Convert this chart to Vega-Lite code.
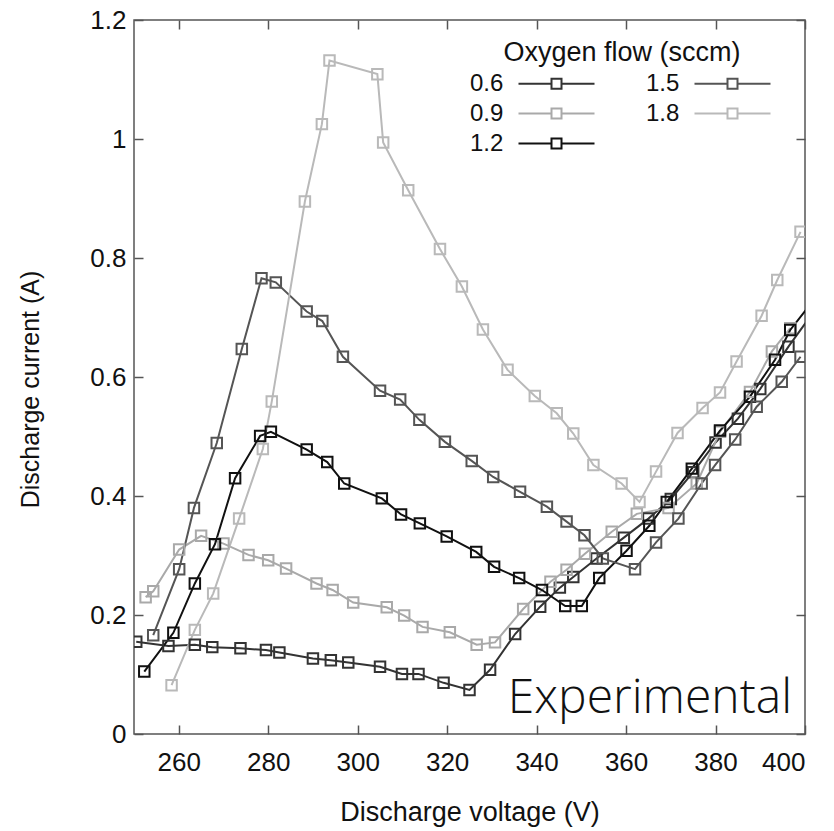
{
  "$schema": "https://vega.github.io/schema/vega-lite/v6.json",
  "width": 671,
  "height": 714,
  "autosize": {"type": "none"},
  "padding": {"left": 134, "top": 20, "right": 29, "bottom": 97},
  "background": "white",
  "config": {
    "view": {"stroke": "#555555", "strokeWidth": 1.5},
    "font": "Liberation Sans",
    "axis": {
      "domain": false,
      "grid": false,
      "tickColor": "#555555",
      "tickWidth": 1.5,
      "tickSize": -9,
      "labelFont": "Liberation Sans",
      "labelFontSize": 26,
      "labelColor": "#111111",
      "titleFont": "Liberation Sans",
      "titleFontSize": 26,
      "titleFontWeight": "normal",
      "titleColor": "#111111"
    },
    "legend": {
      "orient": "none",
      "legendX": 336,
      "legendY": 20,
      "columns": 2,
      "titleFont": "Liberation Sans",
      "titleFontSize": 27,
      "titleFontWeight": "normal",
      "titleColor": "#111111",
      "titleAnchor": "middle",
      "titleLimit": 400,
      "titlePadding": 3,
      "labelFont": "Liberation Sans",
      "labelFontSize": 24,
      "labelColor": "#111111",
      "labelAlign": "left",
      "labelOffset": -100,
      "symbolOffset": 73,
      "symbolType": "M-3.04,0H-0.4M0.4,0H3.04M-0.4,-0.4H0.4V0.4H-0.4Z",
      "symbolSize": 625,
      "symbolStrokeWidth": 2,
      "symbolFillColor": "transparent",
      "rowPadding": 4,
      "columnPadding": 47
    }
  },
  "data": {
    "values": [
      {"flow": "0.6", "v": 250.5, "i": 0.155},
      {"flow": "0.6", "v": 257.7, "i": 0.148},
      {"flow": "0.6", "v": 263.6, "i": 0.150},
      {"flow": "0.6", "v": 267.5, "i": 0.146},
      {"flow": "0.6", "v": 273.8, "i": 0.144},
      {"flow": "0.6", "v": 279.5, "i": 0.141},
      {"flow": "0.6", "v": 282.5, "i": 0.137},
      {"flow": "0.6", "v": 290.0, "i": 0.127},
      {"flow": "0.6", "v": 294.0, "i": 0.124},
      {"flow": "0.6", "v": 297.9, "i": 0.120},
      {"flow": "0.6", "v": 305.0, "i": 0.113},
      {"flow": "0.6", "v": 309.9, "i": 0.101},
      {"flow": "0.6", "v": 313.6, "i": 0.101},
      {"flow": "0.6", "v": 319.2, "i": 0.086},
      {"flow": "0.6", "v": 325.0, "i": 0.074},
      {"flow": "0.6", "v": 329.6, "i": 0.108},
      {"flow": "0.6", "v": 335.2, "i": 0.168},
      {"flow": "0.6", "v": 340.8, "i": 0.214},
      {"flow": "0.6", "v": 345.2, "i": 0.246},
      {"flow": "0.6", "v": 348.2, "i": 0.264},
      {"flow": "0.6", "v": 353.4, "i": 0.295},
      {"flow": "0.6", "v": 359.5, "i": 0.330},
      {"flow": "0.6", "v": 365.0, "i": 0.362},
      {"flow": "0.6", "v": 370.0, "i": 0.395},
      {"flow": "0.6", "v": 375.0, "i": 0.440},
      {"flow": "0.6", "v": 380.0, "i": 0.490},
      {"flow": "0.6", "v": 385.0, "i": 0.530},
      {"flow": "0.6", "v": 390.0, "i": 0.580},
      {"flow": "0.6", "v": 396.3, "i": 0.651},
      {"flow": "0.6", "v": 401.5, "i": 0.705},

      {"flow": "0.9", "v": 252.6, "i": 0.230},
      {"flow": "0.9", "v": 254.3, "i": 0.240},
      {"flow": "0.9", "v": 260.1, "i": 0.310},
      {"flow": "0.9", "v": 265.0, "i": 0.333},
      {"flow": "0.9", "v": 270.0, "i": 0.320},
      {"flow": "0.9", "v": 275.6, "i": 0.301},
      {"flow": "0.9", "v": 280.0, "i": 0.292},
      {"flow": "0.9", "v": 284.0, "i": 0.278},
      {"flow": "0.9", "v": 290.8, "i": 0.253},
      {"flow": "0.9", "v": 294.4, "i": 0.242},
      {"flow": "0.9", "v": 299.0, "i": 0.221},
      {"flow": "0.9", "v": 306.5, "i": 0.213},
      {"flow": "0.9", "v": 310.4, "i": 0.199},
      {"flow": "0.9", "v": 314.5, "i": 0.180},
      {"flow": "0.9", "v": 320.6, "i": 0.171},
      {"flow": "0.9", "v": 326.6, "i": 0.150},
      {"flow": "0.9", "v": 330.7, "i": 0.154},
      {"flow": "0.9", "v": 337.0, "i": 0.210},
      {"flow": "0.9", "v": 343.1, "i": 0.256},
      {"flow": "0.9", "v": 346.7, "i": 0.276},
      {"flow": "0.9", "v": 350.8, "i": 0.303},
      {"flow": "0.9", "v": 356.8, "i": 0.340},
      {"flow": "0.9", "v": 362.4, "i": 0.370},
      {"flow": "0.9", "v": 369.5, "i": 0.380},
      {"flow": "0.9", "v": 375.8, "i": 0.421},
      {"flow": "0.9", "v": 381.0, "i": 0.508},
      {"flow": "0.9", "v": 387.7, "i": 0.575},
      {"flow": "0.9", "v": 392.6, "i": 0.643},
      {"flow": "0.9", "v": 396.7, "i": 0.682},

      {"flow": "1.2", "v": 252.3, "i": 0.105},
      {"flow": "1.2", "v": 258.8, "i": 0.170},
      {"flow": "1.2", "v": 263.6, "i": 0.253},
      {"flow": "1.2", "v": 268.1, "i": 0.319},
      {"flow": "1.2", "v": 272.6, "i": 0.430},
      {"flow": "1.2", "v": 278.2, "i": 0.501},
      {"flow": "1.2", "v": 280.6, "i": 0.508},
      {"flow": "1.2", "v": 288.6, "i": 0.478},
      {"flow": "1.2", "v": 293.2, "i": 0.457},
      {"flow": "1.2", "v": 297.0, "i": 0.421},
      {"flow": "1.2", "v": 305.4, "i": 0.396},
      {"flow": "1.2", "v": 309.7, "i": 0.369},
      {"flow": "1.2", "v": 313.9, "i": 0.354},
      {"flow": "1.2", "v": 319.9, "i": 0.332},
      {"flow": "1.2", "v": 326.5, "i": 0.306},
      {"flow": "1.2", "v": 330.5, "i": 0.281},
      {"flow": "1.2", "v": 336.1, "i": 0.262},
      {"flow": "1.2", "v": 341.2, "i": 0.242},
      {"flow": "1.2", "v": 346.4, "i": 0.215},
      {"flow": "1.2", "v": 350.1, "i": 0.215},
      {"flow": "1.2", "v": 354.0, "i": 0.262},
      {"flow": "1.2", "v": 360.1, "i": 0.308},
      {"flow": "1.2", "v": 365.2, "i": 0.350},
      {"flow": "1.2", "v": 369.1, "i": 0.390},
      {"flow": "1.2", "v": 374.7, "i": 0.446},
      {"flow": "1.2", "v": 381.0, "i": 0.510},
      {"flow": "1.2", "v": 387.7, "i": 0.567},
      {"flow": "1.2", "v": 393.3, "i": 0.629},
      {"flow": "1.2", "v": 396.7, "i": 0.679},
      {"flow": "1.2", "v": 401.5, "i": 0.725},

      {"flow": "1.5", "v": 254.3, "i": 0.166},
      {"flow": "1.5", "v": 260.1, "i": 0.277},
      {"flow": "1.5", "v": 263.4, "i": 0.380},
      {"flow": "1.5", "v": 268.5, "i": 0.489},
      {"flow": "1.5", "v": 274.1, "i": 0.647},
      {"flow": "1.5", "v": 278.5, "i": 0.766},
      {"flow": "1.5", "v": 281.7, "i": 0.759},
      {"flow": "1.5", "v": 288.6, "i": 0.710},
      {"flow": "1.5", "v": 292.1, "i": 0.694},
      {"flow": "1.5", "v": 296.7, "i": 0.634},
      {"flow": "1.5", "v": 305.0, "i": 0.577},
      {"flow": "1.5", "v": 309.5, "i": 0.562},
      {"flow": "1.5", "v": 313.8, "i": 0.528},
      {"flow": "1.5", "v": 319.5, "i": 0.491},
      {"flow": "1.5", "v": 325.5, "i": 0.459},
      {"flow": "1.5", "v": 330.3, "i": 0.432},
      {"flow": "1.5", "v": 336.3, "i": 0.407},
      {"flow": "1.5", "v": 342.3, "i": 0.382},
      {"flow": "1.5", "v": 346.7, "i": 0.357},
      {"flow": "1.5", "v": 350.7, "i": 0.334},
      {"flow": "1.5", "v": 354.8, "i": 0.295},
      {"flow": "1.5", "v": 362.0, "i": 0.277},
      {"flow": "1.5", "v": 366.7, "i": 0.322},
      {"flow": "1.5", "v": 371.7, "i": 0.362},
      {"flow": "1.5", "v": 376.9, "i": 0.421},
      {"flow": "1.5", "v": 379.9, "i": 0.452},
      {"flow": "1.5", "v": 384.4, "i": 0.495},
      {"flow": "1.5", "v": 389.2, "i": 0.550},
      {"flow": "1.5", "v": 394.8, "i": 0.592},
      {"flow": "1.5", "v": 399.0, "i": 0.634},

      {"flow": "1.8", "v": 258.4, "i": 0.082},
      {"flow": "1.8", "v": 263.6, "i": 0.175},
      {"flow": "1.8", "v": 267.7, "i": 0.236},
      {"flow": "1.8", "v": 273.5, "i": 0.362},
      {"flow": "1.8", "v": 278.8, "i": 0.479},
      {"flow": "1.8", "v": 280.8, "i": 0.559},
      {"flow": "1.8", "v": 288.2, "i": 0.895},
      {"flow": "1.8", "v": 292.0, "i": 1.025},
      {"flow": "1.8", "v": 293.7, "i": 1.132},
      {"flow": "1.8", "v": 304.4, "i": 1.109},
      {"flow": "1.8", "v": 305.7, "i": 0.994},
      {"flow": "1.8", "v": 311.3, "i": 0.914},
      {"flow": "1.8", "v": 318.4, "i": 0.815},
      {"flow": "1.8", "v": 323.3, "i": 0.752},
      {"flow": "1.8", "v": 328.0, "i": 0.680},
      {"flow": "1.8", "v": 333.5, "i": 0.612},
      {"flow": "1.8", "v": 339.6, "i": 0.568},
      {"flow": "1.8", "v": 344.5, "i": 0.539},
      {"flow": "1.8", "v": 348.2, "i": 0.505},
      {"flow": "1.8", "v": 352.7, "i": 0.452},
      {"flow": "1.8", "v": 359.0, "i": 0.421},
      {"flow": "1.8", "v": 363.0, "i": 0.390},
      {"flow": "1.8", "v": 366.7, "i": 0.441},
      {"flow": "1.8", "v": 371.5, "i": 0.506},
      {"flow": "1.8", "v": 377.1, "i": 0.548},
      {"flow": "1.8", "v": 381.0, "i": 0.574},
      {"flow": "1.8", "v": 384.7, "i": 0.626},
      {"flow": "1.8", "v": 390.3, "i": 0.703},
      {"flow": "1.8", "v": 393.8, "i": 0.763},
      {"flow": "1.8", "v": 399.0, "i": 0.844}
    ]
  },
  "layer": [
    {
      "mark": {"type": "line", "strokeWidth": 2, "clip": true},
      "encoding": {
        "x": {
          "field": "v", "type": "quantitative",
          "scale": {"domain": [250, 400], "nice": false, "zero": false},
          "axis": {"orient": "bottom", "title": "Discharge voltage (V)", "titleFontSize": 27, "values": [260, 280, 300, 320, 340, 360, 380, 400], "labelPadding": 24, "titlePadding": 24}
        },
        "y": {
          "field": "i", "type": "quantitative",
          "scale": {"domain": [0, 1.2], "nice": false},
          "axis": {"orient": "left", "title": "Discharge current (A)", "titleFontSize": 25, "titleY": 369, "values": [0, 0.2, 0.4, 0.6, 0.8, 1, 1.2], "format": "~g", "labelPadding": 17, "titlePadding": 46}
        },
        "color": {
          "field": "flow", "type": "nominal",
          "scale": {"domain": ["0.6", "0.9", "1.2", "1.5", "1.8"], "range": ["#333333", "#a9a9a9", "#111111", "#555555", "#b9b9b9"]},
          "legend": {"title": "Oxygen flow (sccm)"}
        }
      }
    },
    {
      "mark": {"type": "point", "shape": "square", "filled": false, "size": 110, "strokeWidth": 2, "opacity": 1, "clip": true},
      "encoding": {
        "x": {"field": "v", "type": "quantitative", "axis": {"orient": "top", "labels": false, "title": null, "values": [260, 280, 300, 320, 340, 360, 380, 400]}},
        "y": {"field": "i", "type": "quantitative", "axis": {"orient": "right", "labels": false, "title": null, "values": [0, 0.2, 0.4, 0.6, 0.8, 1, 1.2]}},
        "color": {"field": "flow", "type": "nominal", "legend": null}
      }
    },
    {
      "data": {"values": [{"v": 397.1, "i": 0.035, "label": "Experimental"}]},
      "mark": {"type": "text", "align": "right", "baseline": "alphabetic", "font": "Open Sans", "fontWeight": 300, "fontSize": 48, "color": "#111111"},
      "encoding": {
        "x": {"field": "v", "type": "quantitative", "axis": null},
        "y": {"field": "i", "type": "quantitative", "axis": null},
        "text": {"field": "label"}
      }
    }
  ],
  "resolve": {"axis": {"x": "independent", "y": "independent"}}
}
